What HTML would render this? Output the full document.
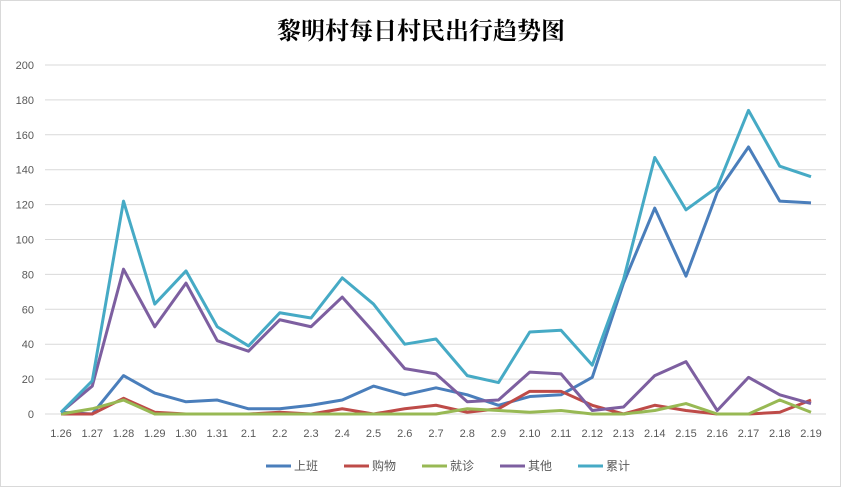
<!DOCTYPE html>
<html><head><meta charset="utf-8"><style>
body{margin:0;background:#fff}
#c{width:842px;height:488px;position:relative;overflow:hidden}
</style></head><body><div id="c">
<svg id="s" width="842" height="488" xmlns="http://www.w3.org/2000/svg" font-family="Liberation Sans, Noto Sans CJK SC, sans-serif">
<rect x="0.5" y="0.5" width="840" height="486" fill="#fff" stroke="#d9d9d9"/>
<text x="421" y="39" text-anchor="middle" font-size="24" font-weight="bold" font-family="Noto Serif CJK SC, Noto Sans CJK SC, serif" fill="#000">黎明村每日村民出行趋势图</text>
</svg></div>
<script>
const s=document.getElementById('s');const NS='http://www.w3.org/2000/svg';
function el(t,a,txt){const e=document.createElementNS(NS,t);for(const k in a)e.setAttribute(k,a[k]);if(txt!==undefined)e.textContent=txt;s.appendChild(e);return e;}
const y0=414,ys=349/200,x0=61,dx=31.25;
for(let v=0;v<=200;v+=20){const y=y0-v*ys;el('line',{x1:45,x2:826,y1:y,y2:y,stroke:'#d9d9d9','stroke-width':1});el('text',{x:34,y:y+4,'text-anchor':'end','font-size':11,fill:'#595959'},v);}
const labs=['1.26','1.27','1.28','1.29','1.30','1.31','2.1','2.2','2.3','2.4','2.5','2.6','2.7','2.8','2.9','2.10','2.11','2.12','2.13','2.14','2.15','2.16','2.17','2.18','2.19'];
labs.forEach((l,i)=>el('text',{x:x0+i*dx,y:437,'text-anchor':'middle','font-size':11,fill:'#595959'},l));
const series=[
['上班','#4a7ebb',[1,0,22,12,7,8,3,3,5,8,16,11,15,11,5,10,11,21,75,118,79,127,153,122,121]],
['购物','#be4b48',[0,0,9,1,0,0,0,1,0,3,0,3,5,1,3,13,13,5,0,5,2,0,0,1,8]],
['就诊','#98b954',[0,3,8,0,0,0,0,0,0,0,0,0,0,3,2,1,2,0,0,2,6,0,0,8,1]],
['其他','#7d5fa0',[1,16,83,50,75,42,36,54,50,67,47,26,23,7,8,24,23,2,4,22,30,2,21,11,6]],
['累计','#46aac5',[1,19,122,63,82,50,39,58,55,78,63,40,43,22,18,47,48,28,77,147,117,130,174,142,136]]];
series.forEach((d,k)=>{el('polyline',{points:d[2].map((v,i)=>(x0+i*dx)+','+(y0-v*ys)).join(' '),fill:'none',stroke:d[1],'stroke-width':3,'stroke-linejoin':'round'});
const lx=266+k*78;el('line',{x1:lx,x2:lx+25,y1:466,y2:466,stroke:d[1],'stroke-width':3});el('text',{x:lx+28,y:470,'font-size':12,fill:'#595959'},d[0]);});
</script></body></html>
